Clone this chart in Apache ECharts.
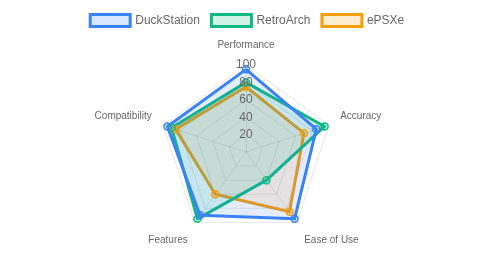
<!DOCTYPE html>
<html>
<head>
<meta charset="utf-8">
<script src="https://cdn.jsdelivr.net/npm/echarts@6/dist/echarts.min.js"></script>
<style>html,body{margin:0;padding:0;background:#fff;}#c{width:493px;height:256px;}</style>
</head>
<body>
<div id="c"></div>
<script>
const indicators = ['Performance', 'Accuracy', 'Ease of Use', 'Features', 'Compatibility'];
const seriesNames = ['DuckStation', 'RetroArch', 'ePSXe'];
const duckStation = [95, 85, 95, 90, 95];
const retroArch = [80, 95, 40, 95, 90];
const ePSXe = [75, 70, 85, 60, 85];
const tickValues = [0, 20, 40, 60, 80, 100];

const mainColors = ['#3b82f6', '#10b981', '#f59e0b'];
const fillColors = ['rgba(59,130,246,0.2)', 'rgba(16,185,129,0.2)', 'rgba(245,158,11,0.2)'];
const values = [duckStation, retroArch, ePSXe];

// ECharts radar runs counter-clockwise; reorder so the axes go clockwise from the top
const order = [0, 4, 3, 2, 1];
const reorder = arr => order.map(i => arr[i]);

const nameStyleKey = {
  'Performance': 'top', 'Accuracy': 'side', 'Compatibility': 'side',
  'Ease of Use': 'bottom', 'Features': 'bottom'
};

const chart = echarts.init(document.getElementById('c'), null, {renderer: 'canvas'});
const font = 'Liberation Sans, Arial, Helvetica, sans-serif';
const center = [246, 152];
const radius = 87;
const nameBase = {color: '#666', fontSize: 10, fontFamily: font};
chart.setOption({
  animation: false,
  textStyle: {fontFamily: font},
  legend: {
    top: 8, left: 'center',
    itemWidth: 40, itemHeight: 12, itemGap: 10,
    icon: 'rect',
    textStyle: {color: '#666', fontSize: 12, fontFamily: font},
    data: seriesNames.map((n, i) => ({
      name: n,
      itemStyle: {color: fillColors[i], borderColor: mainColors[i], borderWidth: 3}
    }))
  },
  radar: {
    center: center, radius: radius, shape: 'polygon',
    startAngle: 90, splitNumber: tickValues.length - 1,
    indicator: reorder(indicators).map(n => ({name: n, min: tickValues[0], max: tickValues[tickValues.length - 1]})),
    nameGap: 12,
    axisName: {
      color: '#666', fontSize: 10, fontFamily: font,
      formatter: n => '{' + nameStyleKey[n] + '|' + n + '}',
      rich: {
        top: Object.assign({padding: [0, 0, 3, 0]}, nameBase),
        side: Object.assign({padding: [0, 0, 10, 0]}, nameBase),
        bottom: Object.assign({padding: [16, 0, 0, 0]}, nameBase)
      }
    },
    splitArea: {show: false},
    splitLine: {lineStyle: {color: 'rgba(0,0,0,0.1)', width: 1}},
    axisLine: {lineStyle: {color: 'rgba(0,0,0,0.1)', width: 1}}
  },
  polar: {center: center, radius: radius},
  angleAxis: {type: 'value', startAngle: 90, show: false, min: 0, max: 360},
  radiusAxis: {
    type: 'value', min: tickValues[0], max: tickValues[tickValues.length - 1], interval: 20,
    axisLine: {show: false}, axisTick: {show: false}, splitLine: {show: false},
    axisLabel: {show: true, showMinLabel: false, margin: 0, align: 'center', verticalAlign: 'middle',
      color: '#666', fontSize: 12, fontFamily: font},
    z: 10
  },
  series: [{
    type: 'radar',
    z: 2,
    // first dataset drawn last (on top), like the reference
    data: values.map((v, i) => ({
      name: seriesNames[i],
      value: reorder(v),
      symbol: 'circle', symbolSize: 7,
      lineStyle: {color: mainColors[i], width: 3},
      areaStyle: {color: fillColors[i]},
      itemStyle: {color: fillColors[i], borderColor: mainColors[i], borderWidth: 1.5}
    })).reverse()
  }]
});
</script>
</body>
</html>
